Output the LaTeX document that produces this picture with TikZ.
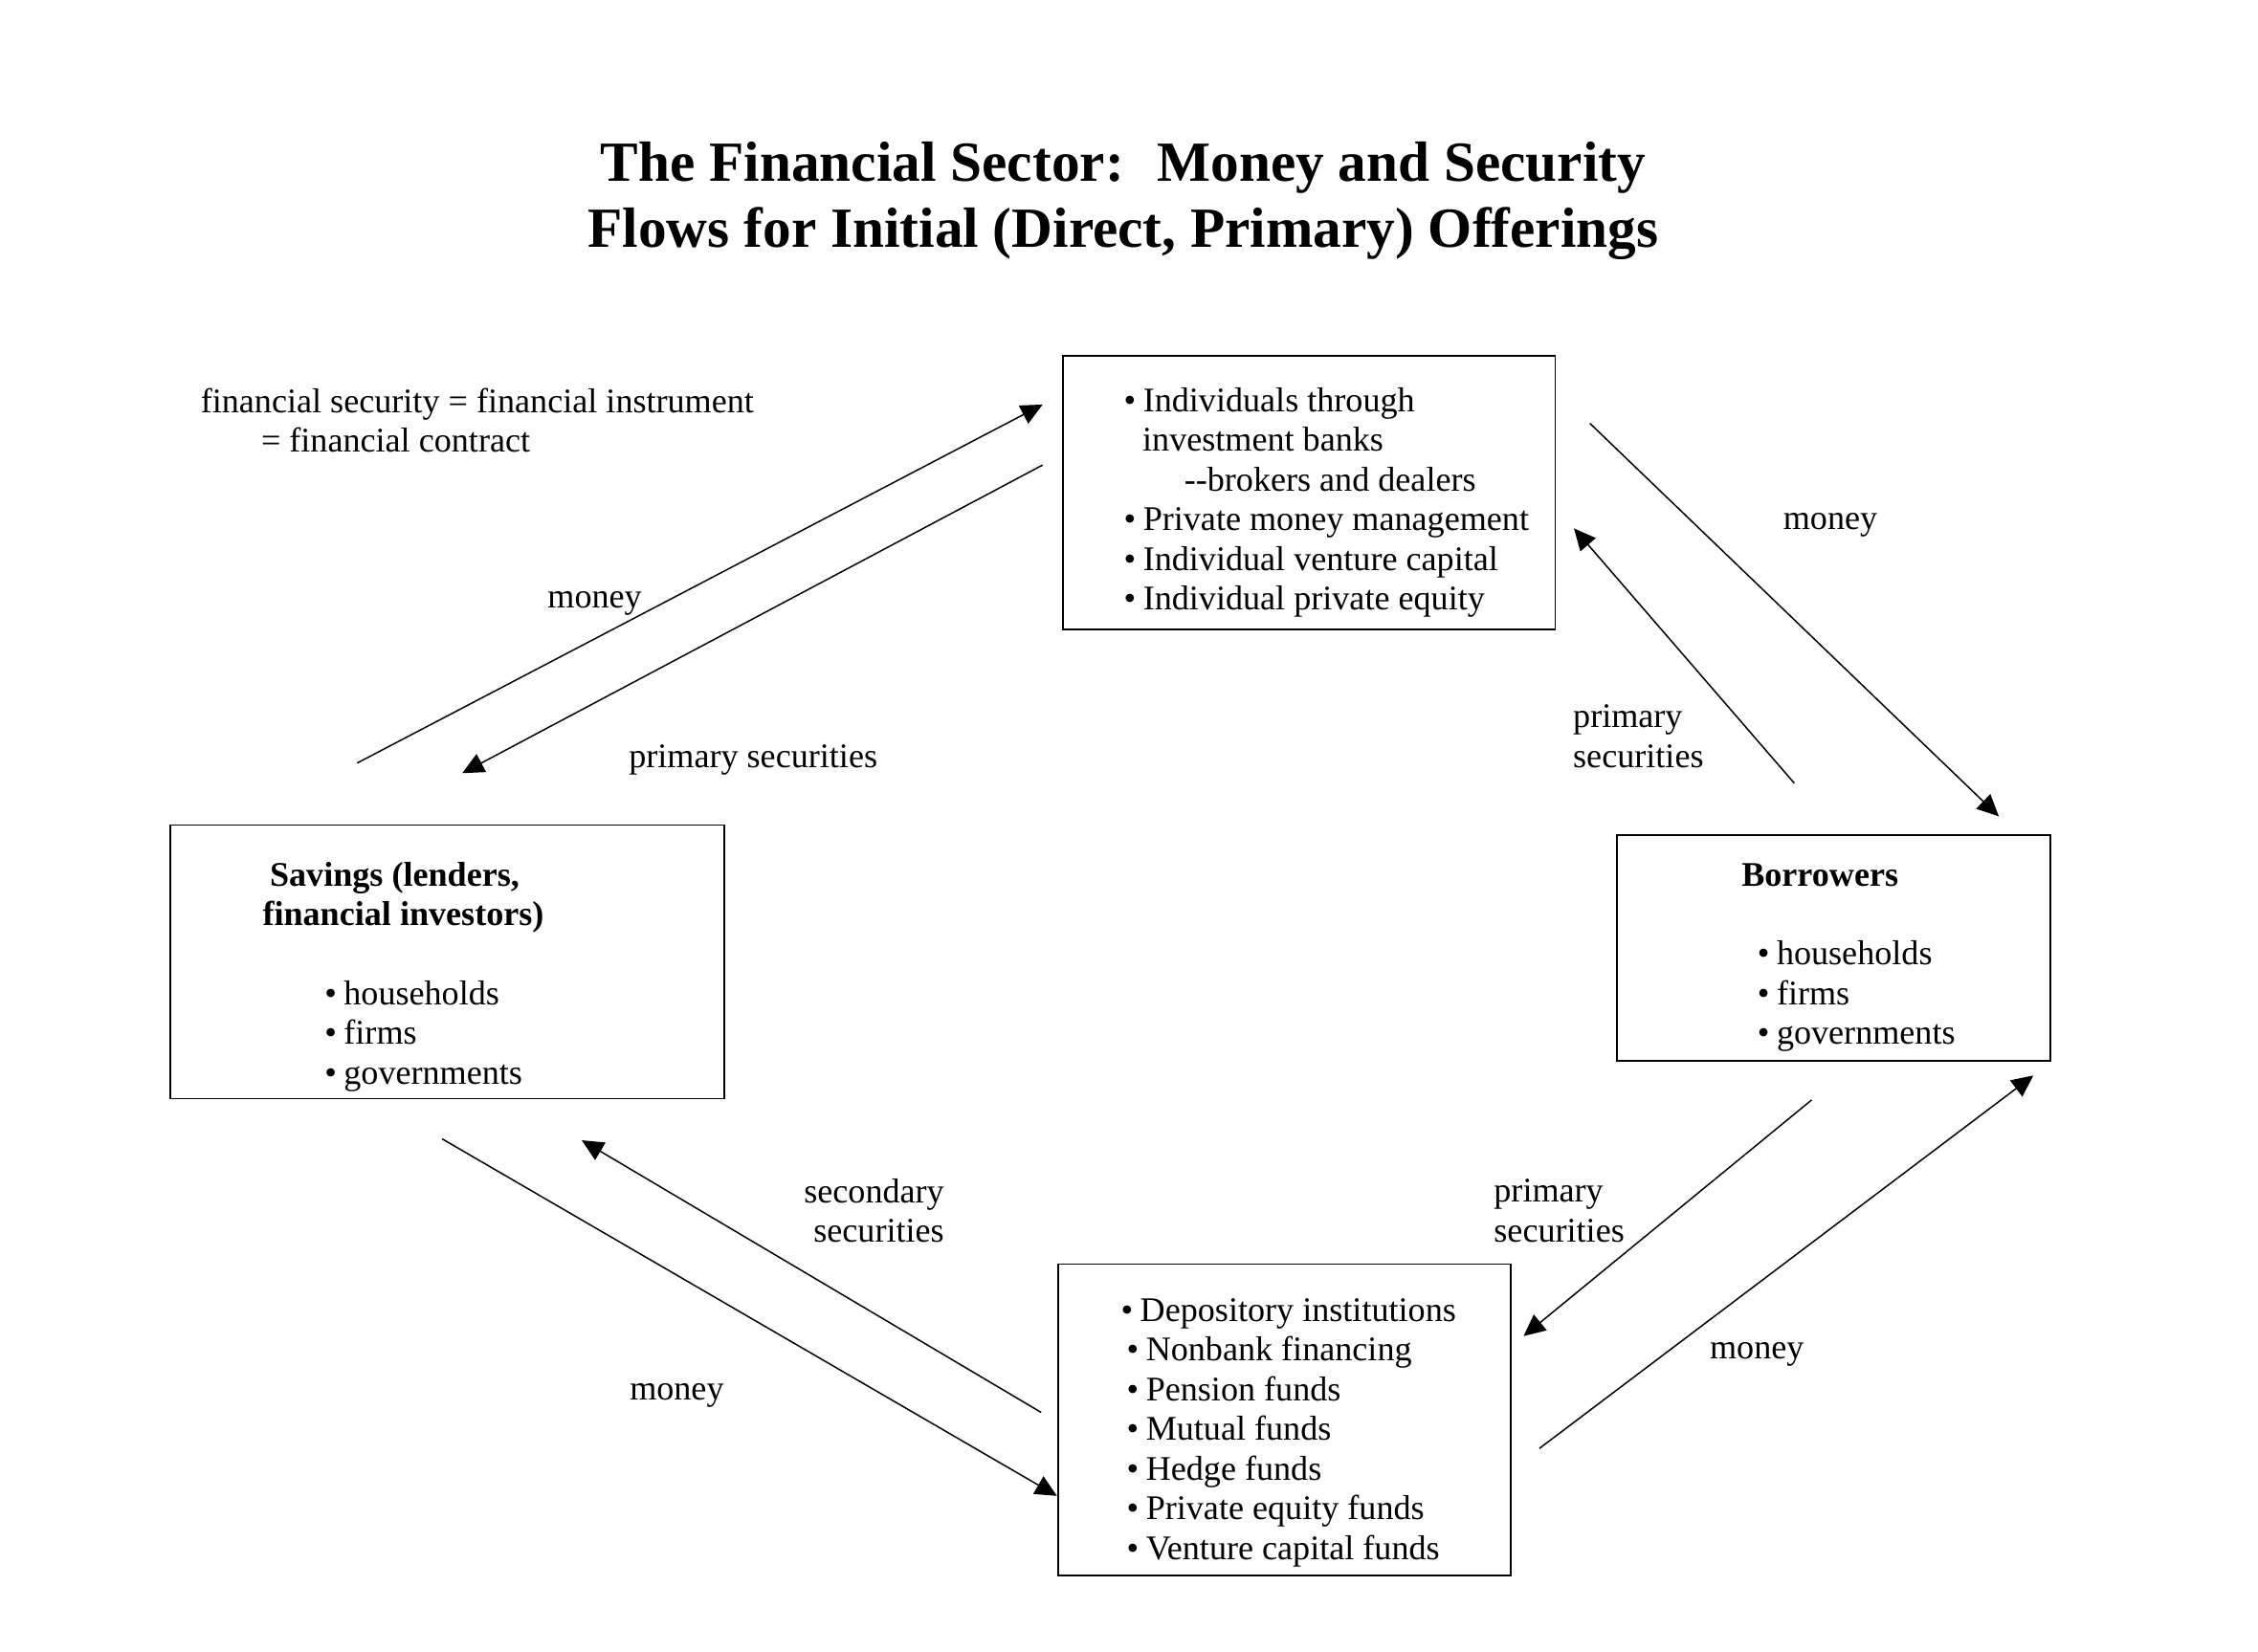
\documentclass[tikz,border=0pt]{standalone}
\usepackage{fontspec}
\setmainfont{Liberation Serif}
\usepackage{xcolor}
\usetikzlibrary{arrows.meta}
\newcommand{\itm}{\textbullet\hspace{2.5pt}}
\tikzset{
  box/.style={draw, line width=0.6pt, inner sep=0pt},
  txt/.style={inner sep=0pt, font=\fontsize{12}{13.8}\selectfont},
  head/.style={inner sep=0pt, font=\fontsize{12}{13.8}\selectfont\bfseries},
  flow/.style={line width=0.5pt, -{Triangle[length=7.5pt,width=7pt]}}
}

\begin{document}
\begin{tikzpicture}[x=0.5pt, y=-0.5pt]
\useasboundingbox (0,0) rectangle (1568,1147);

\node[align=center, inner sep=0pt, font=\fontsize{19.7}{22.7}\selectfont\bfseries] (title) at (780,139.5)
  {The Financial Sector:~ Money and Security\\Flows for Initial (Direct, Primary) Offerings};

\node[txt, anchor=west, align=left] (note) at (139,292)
  {financial security = financial instrument\\\hspace*{21pt}= financial contract};

% boxes
\node[box, minimum width=171pt, minimum height=95pt] (ind) at (909,342) {};
\node[txt, anchor=west, align=left] (indlist) at (780,349)
  {\itm Individuals through\\\hspace*{6.5pt}investment banks\\\hspace*{21pt}-{}-brokers and dealers\\\itm Private money management\\\itm Individual venture capital\\\itm Individual private equity};

\node[box, minimum width=192.5pt, minimum height=95pt] (sav) at (310.5,668) {};
\node[head, anchor=west, align=left] (savhead) at (182,623.5)
  {\hspace*{2.5pt}Savings (lenders,\\financial investors)};
\node[txt, anchor=west, align=left] (savlist) at (225,719.5)
  {\itm households\\\itm firms\\\itm governments};

\node[box, minimum width=150.5pt, minimum height=78.5pt] (bor) at (1273.5,658.5) {};
\node[head, anchor=west] (borhead) at (1209,608) {Borrowers};
\node[txt, anchor=west, align=left] (borlist) at (1220,692)
  {\itm households\\\itm firms\\\itm governments};

\node[box, minimum width=157pt, minimum height=108pt] (inst) at (892,986) {};
\node[txt, anchor=west, align=left] (instlist) at (782,995)
  {\hspace*{-2pt}\itm Depository institutions\\\itm Nonbank financing\\\itm Pension funds\\\itm Mutual funds\\\itm Hedge funds\\\itm Private equity funds\\\itm Venture capital funds};

% arrow ends
\coordinate (sav2ind-a) at (248,530);
\coordinate (sav2ind-b) at (724,281);
\coordinate (ind2sav-a) at (724,323);
\coordinate (ind2sav-b) at (321,537);
\coordinate (ind2bor-a) at (1104,294);
\coordinate (ind2bor-b) at (1388,567);
\coordinate (bor2ind-a) at (1246,544);
\coordinate (bor2ind-b) at (1093,367);
\coordinate (bor2inst-a) at (1258,764);
\coordinate (bor2inst-b) at (1058,928);
\coordinate (inst2bor-a) at (1069,1006);
\coordinate (inst2bor-b) at (1412,747);
\coordinate (inst2sav-a) at (723,981);
\coordinate (inst2sav-b) at (404,792);
\coordinate (sav2inst-a) at (307,791);
\coordinate (sav2inst-b) at (734,1039);

\draw[flow] (sav2ind-a) -- (sav2ind-b);
\draw[flow] (ind2sav-a) -- (ind2sav-b);
\draw[flow] (ind2bor-a) -- (ind2bor-b);
\draw[flow] (bor2ind-a) -- (bor2ind-b);
\draw[flow] (bor2inst-a) -- (bor2inst-b);
\draw[flow] (inst2bor-a) -- (inst2bor-b);
\draw[flow] (inst2sav-a) -- (inst2sav-b);
\draw[flow] (sav2inst-a) -- (sav2inst-b);

% labels
\node[txt] (money1) at (413,419) {money};
\node[txt] (prim1) at (523,528) {primary securities};
\node[txt] (money2) at (1271,365) {money};
\node[txt, anchor=west, align=left] (prim2) at (1092,511.5) {primary\\securities};
\node[txt, anchor=west, align=left] (prim3) at (1037,841) {primary\\securities};
\node[txt] (money3) at (1220,941) {money};
\node[txt, anchor=east, align=right] (sec1) at (656,841) {secondary\\securities};
\node[txt] (money4) at (470,969) {money};
\end{tikzpicture}
\end{document}
